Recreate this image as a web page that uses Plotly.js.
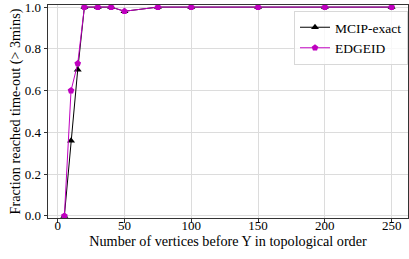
<!DOCTYPE html>
<html><head><meta charset="utf-8">
<script src="https://cdn.plot.ly/plotly-3.0.1.min.js"></script>
<style>html,body{margin:0;padding:0;background:#fff}#c{width:409px;height:259px}</style>
</head><body><div id="c"></div>
<script>
const vertices = [5, 10, 15, 20, 30, 40, 50, 75, 100, 150, 200, 250];
const mcipExact = [0, 0.36, 0.70, 1, 1, 1, 0.98, 1, 1, 1, 1, 1];
const edgeid = [0, 0.60, 0.73, 1, 1, 1, 0.98, 1, 1, 1, 1, 1];
const xTicks = [0, 50, 100, 150, 200, 250];
const yTicks = [0, 0.2, 0.4, 0.6, 0.8, 1.0];
const yTickText = ['0.0', '0.2', '0.4', '0.6', '0.8', '1.0'];

const fam = "'Liberation Serif', 'Times New Roman', 'DejaVu Serif', serif";
const tickFont = {family: fam, size: 13, color: '#000'};
const titleFont = {family: fam, size: 14.2, color: '#000'};
const traces = [
  {x: vertices, y: mcipExact, name: 'MCIP-exact', mode: 'lines+markers',
   line: {color: '#000000', width: 1}, marker: {symbol: 'triangle-up', size: 7, color: '#000000'}},
  {x: vertices, y: edgeid, name: 'EDGEID', mode: 'lines+markers',
   line: {color: '#bf00bf', width: 1}, marker: {symbol: 'pentagon', size: 7, color: '#bf00bf'}}
];
const layout = {
  width: 409, height: 259,
  margin: {l: 48, r: 1, t: 5, b: 41},
  paper_bgcolor: '#fff', plot_bgcolor: '#fff',
  font: tickFont,
  showlegend: true,
  legend: {x: 1, y: 0.972, xanchor: 'right', yanchor: 'top',
    bgcolor: 'rgba(255,255,255,0.8)', bordercolor: '#d8d8d8', borderwidth: 1,
    font: {family: fam, size: 13.5}, tracegroupgap: 0},
  xaxis: {range: [-7.25, 262.25], tickvals: xTicks, ticktext: xTicks.map(String),
    showgrid: true, gridcolor: '#dcdcdc', gridwidth: 1, zeroline: false,
    showline: true, linecolor: '#333', linewidth: 1, mirror: true,
    ticks: 'outside', ticklen: 3.5, tickcolor: '#333', ticklabeloverflow: 'allow',
    ticklabelstandoff: -8,
    tickfont: tickFont,
    title: {text: 'Number of vertices before Y in topological order', font: titleFont, standoff: 0}},
  yaxis: {range: [-0.01, 1.01], tickvals: yTicks, ticktext: yTickText,
    showgrid: true, gridcolor: '#dcdcdc', gridwidth: 1, zeroline: false,
    showline: true, linecolor: '#333', linewidth: 1, mirror: true,
    ticks: 'outside', ticklen: 3.5, tickcolor: '#333', ticklabeloverflow: 'allow',
    tickfont: tickFont,
    title: {text: 'Fraction reached time-out (> 3mins)', font: titleFont, standoff: 0}}
};
Plotly.newPlot('c', traces, layout, {displayModeBar: false, staticPlot: true});
</script></body></html>
